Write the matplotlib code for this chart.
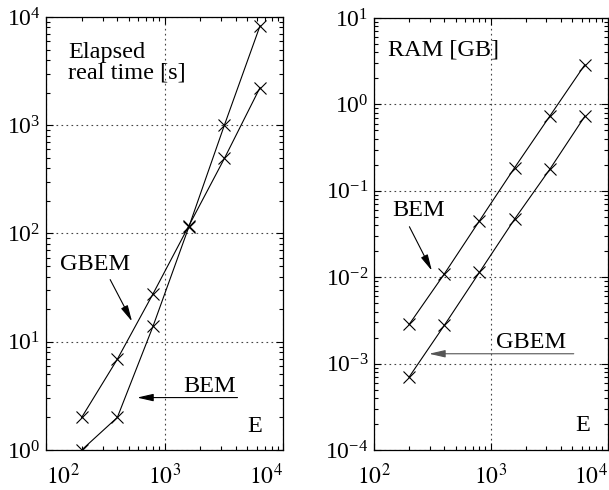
import matplotlib
matplotlib.use("Agg")
import matplotlib.pyplot as plt
from matplotlib.ticker import LogLocator, NullFormatter

plt.rcParams['font.family'] = ['Liberation Serif', 'DejaVu Serif']
plt.rcParams['mathtext.fontset'] = 'stix'

# Data
E = [200, 400, 800, 1600, 3200, 6400]
time_gbem = [2.0, 6.9, 27.7, 117, 493, 2230]
time_bem = [1.0, 2.0, 13.9, 114, 1000, 8300]
ram_bem = [2.84e-3, 1.09e-2, 4.5e-2, 0.185, 0.73, 2.88]
ram_gbem = [7.0e-4, 2.77e-3, 1.14e-2, 4.7e-2, 0.177, 0.73]
xticks = [1e2, 1e3, 1e4]
xticklabels = ['$10^{2}$', '$10^{3}$', '$10^{4}$']

FS = 17.5
TFS = 17

fig = plt.figure(figsize=(6.09, 4.90), dpi=100)
ax1 = fig.add_axes([46/609, 40/490, 237/609, 433/490])
ax2 = fig.add_axes([374/609, 40/490, 233.5/609, 432/490])

def style(ax, ylo, yhi):
    ax.set_xscale('log')
    ax.set_yscale('log')
    ax.set_xlim(1e2, 1e4)
    ax.set_ylim(ylo, yhi)
    ax.set_xticks(xticks, xticklabels)
    ax.yaxis.set_major_locator(LogLocator(base=10, numticks=10))
    ax.xaxis.set_minor_locator(LogLocator(base=10, subs=range(2, 10), numticks=10))
    ax.yaxis.set_minor_locator(LogLocator(base=10, subs=range(2, 10), numticks=10))
    ax.xaxis.set_minor_formatter(NullFormatter())
    ax.yaxis.set_minor_formatter(NullFormatter())
    ax.tick_params(which='both', direction='in', top=True, right=True,
                   labelsize=TFS, width=0.8)
    ax.tick_params(which='major', length=5)
    ax.tick_params(axis='y', which='major', pad=4)
    ax.tick_params(axis='x', which='major', pad=10)
    ax.tick_params(which='minor', length=3)
    ax.grid(True, which='major', linestyle=(0, (1.5, 3)), color='#444444', linewidth=0.8)
    for s in ax.spines.values():
        s.set_linewidth(0.9)

style(ax1, 1e0, 1e4)
style(ax2, 1e-4, 1e1)

lab1 = ax1.get_xticklabels()
lab1[0].set_horizontalalignment('left')
lab1[-1].set_horizontalalignment('right')
lab2 = ax2.get_xticklabels()
lab2[-1].set_horizontalalignment('right')

mk = dict(color='black', linewidth=0.8, marker='x', markersize=9, markeredgewidth=0.8)
ax1.plot(E, time_gbem, **mk)
ax1.plot(E, time_bem, **mk)
ax2.plot(E, ram_bem, **mk)
ax2.plot(E, ram_gbem, **mk)

arr = dict(arrowstyle='-|>,head_length=0.7,head_width=0.16', lw=0.8, color='black',
           shrinkA=0, shrinkB=0, mutation_scale=14)
arr_g = dict(arr, color='#555555')

# Left panel annotations
ax1.text(153, 5880, 'Elapsed\nreal time [s]', fontsize=FS, va='top', ha='left', linespacing=1.0)
ax1.text(131, 51.6, 'GBEM', fontsize=FS, va='center', ha='left')
ax1.annotate('', xy=(532, 15.4), xytext=(348, 37.5), arrowprops=arr)
ax1.text(1440, 3.86, 'BEM', fontsize=FS, va='center', ha='left')
ax1.annotate('', xy=(587, 3.05), xytext=(4130, 3.05), arrowprops=arr)
ax1.text(5000, 1.64, 'E', fontsize=FS, va='center', ha='left')

# Right panel annotations
ax2.text(133, 4.3, 'RAM [GB]', fontsize=FS, va='center', ha='left')
ax2.text(143.5, 0.0586, 'BEM', fontsize=FS, va='center', ha='left')
ax2.annotate('', xy=(313, 0.0119), xytext=(201, 0.0384), arrowprops=arr)
ax2.text(1109, 1.77e-3, 'GBEM', fontsize=FS, va='center', ha='left')
ax2.annotate('', xy=(296, 1.30e-3), xytext=(5140, 1.30e-3), arrowprops=arr_g)
ax2.text(5300, 1.94e-4, 'E', fontsize=FS, va='center', ha='left')

fig.savefig('out.png', dpi=100)
